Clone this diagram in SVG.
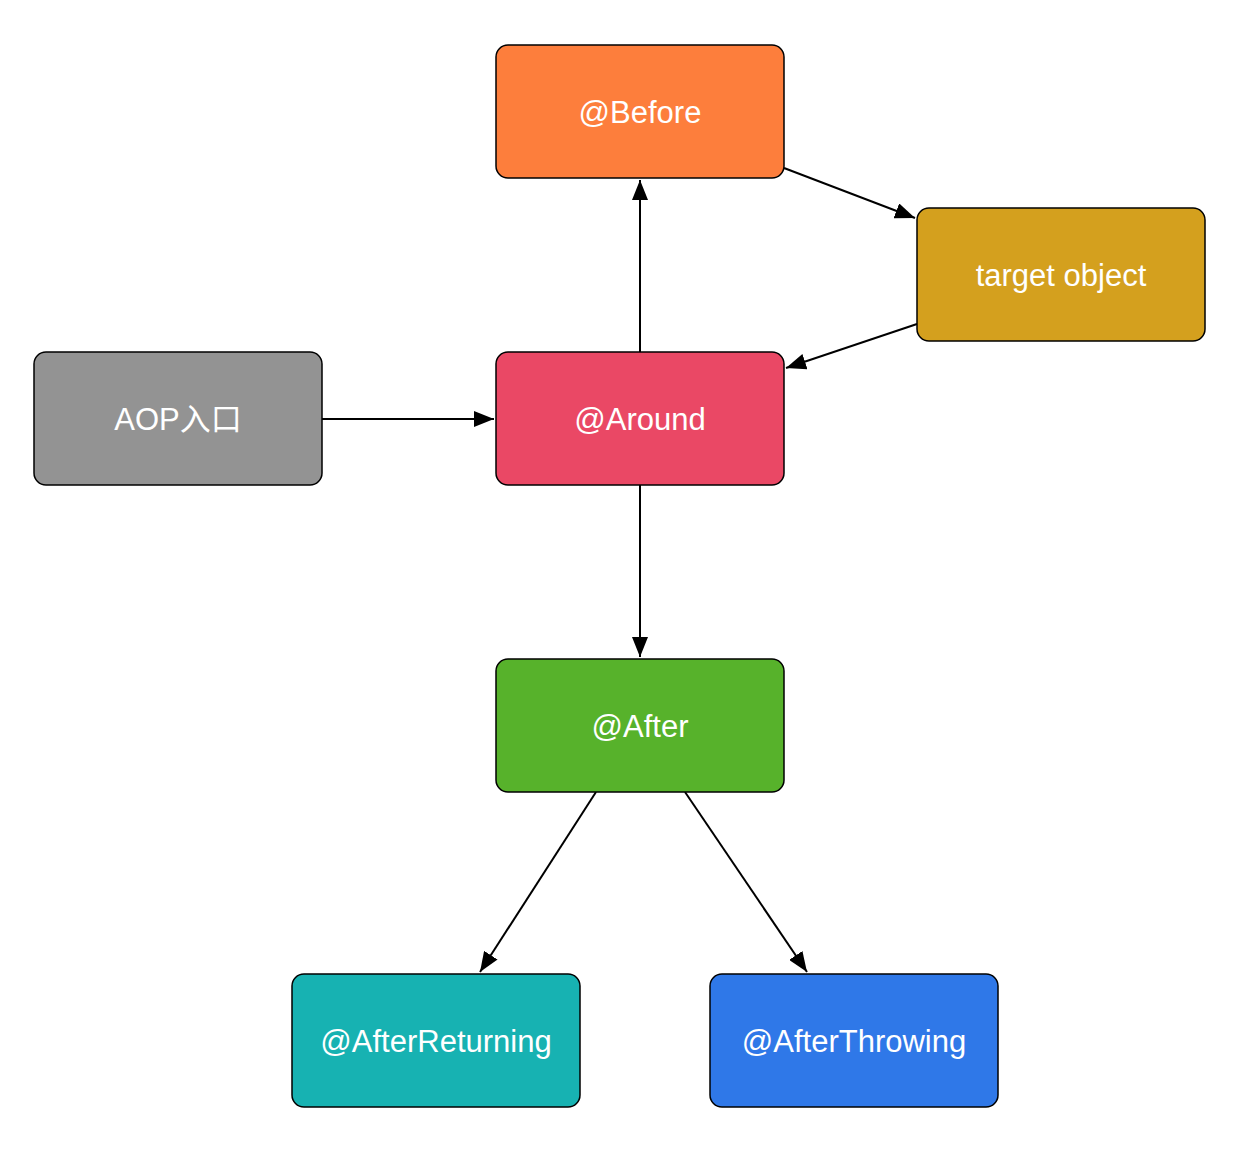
<svg xmlns="http://www.w3.org/2000/svg" width="1256" height="1170" viewBox="0 0 1256 1170">
<style>
.box{stroke:#000;stroke-width:1.5}
.lbl{font-family:"Liberation Sans","Noto Sans CJK SC",Arial,sans-serif;font-size:31px;fill:#fff;text-anchor:middle;dominant-baseline:central}
</style>
<defs>
<marker id="a2" viewBox="0 0 20 16" refX="20" refY="8" markerWidth="20" markerHeight="16" markerUnits="userSpaceOnUse" orient="auto">
<path d="M0,0 L20,8 L0,16 z" fill="#000"/>
</marker>
</defs>
<rect width="1256" height="1170" fill="#fff"/>
<g id="connectors" fill="none" stroke="#000" stroke-width="2">
<line x1="322" y1="419" x2="494" y2="419" marker-end="url(#a2)"/>
<line x1="640" y1="352" x2="640" y2="180" marker-end="url(#a2)"/>
<line x1="784" y1="168" x2="915" y2="218" marker-end="url(#a2)"/>
<line x1="917" y1="324" x2="786" y2="368" marker-end="url(#a2)"/>
<line x1="640" y1="485" x2="640" y2="657" marker-end="url(#a2)"/>
<line x1="596" y1="792" x2="480" y2="972" marker-end="url(#a2)"/>
<line x1="685" y1="792" x2="807" y2="972" marker-end="url(#a2)"/>
</g>
<g id="before"><rect class="box" x="496" y="45" width="288" height="133" rx="12" fill="#FD7E3C"/><text class="lbl" x="640" y="112">@Before</text></g>
<g id="target"><rect class="box" x="917" y="208" width="288" height="133" rx="12" fill="#D4A01E"/><text class="lbl" x="1061" y="275">target object</text></g>
<g id="aop"><rect class="box" x="34" y="352" width="288" height="133" rx="12" fill="#939393"/><text class="lbl" x="178" y="419">AOP入口</text></g>
<g id="around"><rect class="box" x="496" y="352" width="288" height="133" rx="12" fill="#EA4865"/><text class="lbl" x="640" y="419">@Around</text></g>
<g id="after"><rect class="box" x="496" y="659" width="288" height="133" rx="12" fill="#57B22B"/><text class="lbl" x="640" y="726">@After</text></g>
<g id="afterReturning"><rect class="box" x="292" y="974" width="288" height="133" rx="12" fill="#17B2B2"/><text class="lbl" x="436" y="1041">@AfterReturning</text></g>
<g id="afterThrowing"><rect class="box" x="710" y="974" width="288" height="133" rx="12" fill="#2F78E8"/><text class="lbl" x="854" y="1041">@AfterThrowing</text></g>
</svg>
